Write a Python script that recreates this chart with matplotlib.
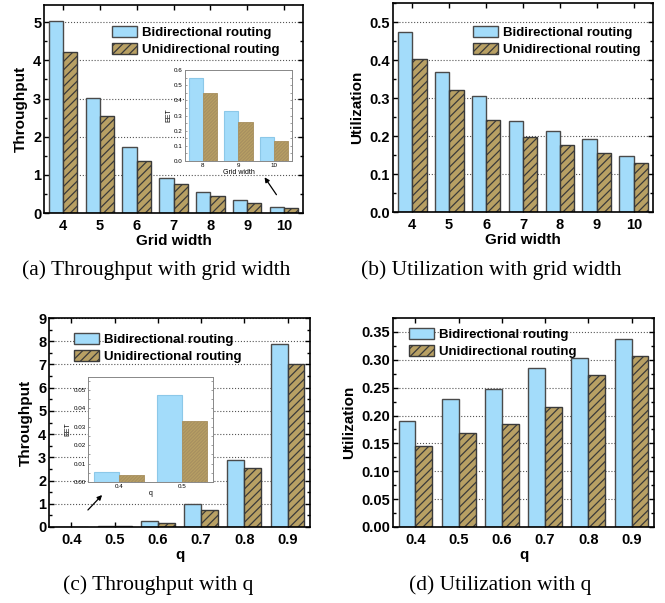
import matplotlib
matplotlib.use('Agg')
import matplotlib.pyplot as plt
from matplotlib.ticker import AutoMinorLocator
import numpy as np

# Data
grid_width = ['4', '5', '6', '7', '8', '9', '10']
thr_grid_bi = [5.03, 3.01, 1.73, 0.93, 0.56, 0.33, 0.16]
thr_grid_uni = [4.23, 2.54, 1.35, 0.76, 0.45, 0.26, 0.13]
util_grid_bi = [0.474, 0.369, 0.305, 0.239, 0.212, 0.193, 0.148]
util_grid_uni = [0.402, 0.320, 0.241, 0.197, 0.176, 0.155, 0.129]

inset_grid = ['8', '9', '10']
eet_grid_bi = [0.55, 0.33, 0.16]
eet_grid_uni = [0.45, 0.26, 0.13]

q_vals = ['0.4', '0.5', '0.6', '0.7', '0.8', '0.9']
thr_q_bi = [0.0055, 0.0475, 0.25, 0.99, 2.90, 7.90]
thr_q_uni = [0.004, 0.033, 0.17, 0.74, 2.55, 7.00]
util_q_bi = [0.191, 0.229, 0.248, 0.285, 0.304, 0.337]
util_q_uni = [0.145, 0.169, 0.185, 0.216, 0.272, 0.307]

inset_q = ['0.4', '0.5']
eet_q_bi = [0.0055, 0.0475]
eet_q_uni = [0.004, 0.033]

BLUE = '#a3dcfa'
BROWN = '#b8a064'
EDGE = '#3a3a3a'
SANS = 'Liberation Sans'

plt.rcParams['font.family'] = SANS
plt.rcParams['hatch.linewidth'] = 0.9

fig = plt.figure(figsize=(6.65, 6.03), dpi=100)


def main_panel(rect, cats, bi, uni, ylim, yticks, yfmt, xlabel, ylabel, leg_xy):
    ax = fig.add_axes(rect)
    x = np.arange(len(cats))
    w = 0.39
    ax.bar(x - w / 2, bi, w, color=BLUE, edgecolor='#4a4a4a', linewidth=1.0,
           label='Bidirectional routing', zorder=2)
    ax.bar(x + w / 2, uni, w, color=BROWN, edgecolor=EDGE, linewidth=1.0,
           hatch='////', label='Unidirectional routing', zorder=2)
    ax.set_xlim(-0.52, len(cats) - 0.48)
    ax.set_ylim(*ylim)
    ax.set_xticks(x)
    ax.set_xticklabels(cats)
    ax.set_yticks(yticks)
    ax.set_yticklabels([yfmt.format(v) for v in yticks])
    ax.yaxis.set_minor_locator(AutoMinorLocator(2))
    ax.tick_params(axis='both', which='both', direction='in', labelsize=10.5, width=1.0)
    ax.tick_params(axis='y', which='both', right=True, pad=2)
    ax.tick_params(axis='x', top=True, pad=4)
    ax.tick_params(which='major', length=3.5)
    ax.tick_params(which='minor', length=2)
    for lab in ax.get_xticklabels() + ax.get_yticklabels():
        lab.set_fontweight('bold')
    ax.grid(axis='y', linestyle=':', color='#555555', linewidth=0.8)
    ax.set_axisbelow(True)
    for s in ax.spines.values():
        s.set_linewidth(1.2)
    ax.set_xlabel(xlabel, fontsize=11, fontweight='bold', labelpad=1)
    ax.set_ylabel(ylabel, fontsize=11, fontweight='bold', labelpad=4)
    ax.legend(loc='upper left', bbox_to_anchor=leg_xy, frameon=False,
              prop={'family': SANS, 'weight': 'bold', 'size': 9.5},
              handlelength=1.9, handleheight=0.9, handletextpad=0.35,
              labelspacing=0.3, borderpad=0, borderaxespad=0)
    return ax


def inset_panel(rect, cats, bi, uni, ylim, yticks, yfmt, xlabel):
    ax = fig.add_axes(rect)
    x = np.arange(len(cats))
    w = 0.4
    ax.bar(x - w / 2, bi, w, color=BLUE, edgecolor='#8cc8e8', linewidth=0.8, zorder=2)
    ax.bar(x + w / 2, uni, w, color=BROWN, edgecolor='#a89060', linewidth=0.6,
           hatch='//////////', zorder=2)
    ax.set_xlim(-0.5, len(cats) - 0.5)
    ax.set_ylim(*ylim)
    ax.set_xticks(x)
    ax.set_xticklabels(cats)
    ax.set_yticks(yticks)
    ax.set_yticklabels([yfmt.format(v) for v in yticks])
    ax.yaxis.set_minor_locator(AutoMinorLocator(2))
    ax.tick_params(axis='both', which='both', labelsize=4.5, length=1.5, width=0.5,
                   pad=1.5, color='#777777', direction='in')
    ax.tick_params(axis='y', which='both', right=True)
    for s in ax.spines.values():
        s.set_linewidth(0.7)
        s.set_color('#888888')
    ax.set_xlabel(xlabel, fontsize=5, labelpad=1)
    ax.set_ylabel('EET', fontsize=5, labelpad=1.5)
    return ax


W, H = 665.0, 603.0


def frac(l, t, r, b):
    return [l / W, 1 - b / H, (r - l) / W, (b - t) / H]


# (a) Throughput vs grid width
main_panel(frac(44, 5, 303, 213), grid_width, thr_grid_bi, thr_grid_uni,
           (0, 5.45), [0, 1, 2, 3, 4, 5], '{:g}', 'Grid width', 'Throughput',
           (0.263, 0.90))
inset_panel(frac(185, 70, 292, 161), inset_grid, eet_grid_bi, eet_grid_uni,
            (0, 0.6), [0.0, 0.1, 0.2, 0.3, 0.4, 0.5, 0.6], '{:.1f}', 'Grid width')

# (b) Utilization vs grid width
main_panel(frac(393, 3, 653, 212), grid_width, util_grid_bi, util_grid_uni,
           (0, 0.55), [0.0, 0.1, 0.2, 0.3, 0.4, 0.5], '{:.1f}', 'Grid width',
           'Utilization', (0.308, 0.89))

# (c) Throughput vs q
main_panel(frac(49, 318, 310, 527), q_vals, thr_q_bi, thr_q_uni,
           (0, 9), list(range(10)), '{:g}', 'q', 'Throughput', (0.096, 0.928))
inset_panel(frac(88, 377, 213, 482), inset_q, eet_q_bi, eet_q_uni,
            (0, 0.057), [0.0, 0.01, 0.02, 0.03, 0.04, 0.05], '{:.2f}', 'q')

# (d) Utilization vs q
main_panel(frac(393, 318, 654, 527), q_vals, util_q_bi, util_q_uni,
           (0, 0.375), [0.0, 0.05, 0.1, 0.15, 0.2, 0.25, 0.3, 0.35], '{:.2f}', 'q',
           'Utilization', (0.061, 0.952))

# arrows pointing from the zoomed bars to the insets
fig.add_artist(plt.Annotation('', xy=(263 / W, 1 - 175 / H), xycoords='figure fraction',
                              xytext=(278 / W, 1 - 197 / H), textcoords='figure fraction',
                              arrowprops=dict(arrowstyle='-|>', color='black', lw=0.9,
                                              mutation_scale=7)))
fig.add_artist(plt.Annotation('', xy=(104 / W, 1 - 493 / H), xycoords='figure fraction',
                              xytext=(86 / W, 1 - 512 / H), textcoords='figure fraction',
                              arrowprops=dict(arrowstyle='-|>', color='black', lw=0.9,
                                              mutation_scale=7)))

# captions
cap = dict(fontsize=15.5, family='Liberation Serif', ha='center', va='center')
fig.text(156 / W, 1 - 270 / H, '(a) Throughput with grid width', **cap)
fig.text(491 / W, 1 - 270 / H, '(b) Utilization with grid width', **cap)
fig.text(158 / W, 1 - 585 / H, '(c) Throughput with q', **cap)
fig.text(500 / W, 1 - 585 / H, '(d) Utilization with q', **cap)

fig.savefig('out.png', dpi=100)
